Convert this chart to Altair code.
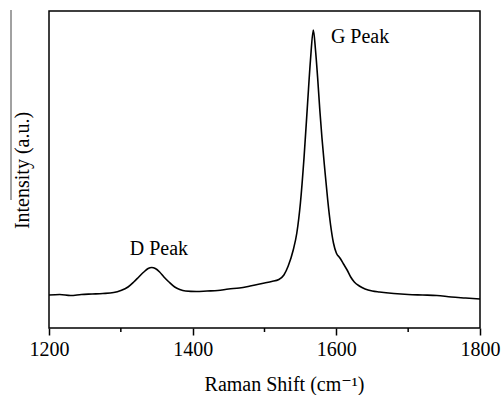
import altair as alt
import pandas as pd

shift = [1200, 1215, 1230, 1245, 1260, 1275, 1290, 1300, 1310, 1318, 1325, 1332, 1338, 1343,
         1348, 1354, 1360, 1367, 1375, 1382, 1390, 1405, 1420, 1435, 1450, 1465, 1480, 1490,
         1500, 1510, 1520, 1527, 1533, 1540, 1545, 1550, 1555, 1560, 1564, 1568, 1571, 1574,
         1577, 1580, 1584, 1588, 1592, 1596, 1600, 1605, 1610, 1615, 1620, 1625, 1632, 1640,
         1650, 1660, 1680, 1700, 1720, 1740, 1760, 1780, 1800]
intensity = [33, 33.5, 32.5, 33.5, 34, 34.5, 35.5, 37.5, 41, 46, 51, 56, 59.5, 60.5,
             59.5, 56, 51, 46, 41, 38.5, 37, 36.5, 37, 37.5, 39, 40, 42, 43.5,
             45, 46.5, 48.5, 53, 62, 78, 95, 125, 170, 225, 268, 298, 278, 250,
             218, 190, 158, 128, 103, 85, 75, 70, 64, 58, 51, 46, 42, 39,
             37, 36, 34.5, 33.5, 33, 32.5, 31, 30, 29]

label_text = ["D Peak", "G Peak"]
label_x = [1353, 1633]
label_y = [73, 285]

major_ticks = [1200, 1400, 1600, 1800]
minor_ticks = [1300, 1500, 1700]

W, H = 431, 317
FONT = "'Liberation Serif', 'DejaVu Serif', serif"

df = pd.DataFrame({"shift": shift, "intensity": intensity})
lab = pd.DataFrame({"text": label_text, "x": label_x, "y": label_y})
minor = pd.DataFrame({"x": minor_ticks})

xscale = alt.Scale(domain=[1200, 1800], nice=False, zero=False)
yscale = alt.Scale(domain=[0, 317], nice=False, zero=True)

line = alt.Chart(df).mark_line(color="black", strokeWidth=1.6, interpolate="monotone").encode(
    x=alt.X("shift:Q", scale=xscale,
            axis=alt.Axis(values=major_ticks, format="d", title="Raman Shift (cm\u207b\u00b9)",
                          domain=False, grid=False, tickSize=7, tickWidth=1.5, tickColor="black",
                          labelFont=FONT, labelFontSize=20, labelColor="black", labelPadding=4,
                          labelFlush=False,
                          titleFont=FONT, titleFontSize=20, titleFontWeight="normal", titleColor="black",
                          titleX=235, titleY=62, titleBaseline="alphabetic", titleAnchor="middle")),
    y=alt.Y("intensity:Q", scale=yscale,
            axis=alt.Axis(title="Intensity (a.u.)", labels=False, ticks=False, domain=False, grid=False,
                          titleFont=FONT, titleFontSize=20, titleFontWeight="normal", titleColor="black",
                          titleX=-27, titleY=159, titleAngle=-90, titleBaseline="middle",
                          titleAlign="center")),
)

texts = alt.Chart(lab).mark_text(font=FONT, fontSize=20, color="black", baseline="alphabetic",
                                 align="center").encode(
    x=alt.X("x:Q", scale=xscale),
    y=alt.Y("y:Q", scale=yscale),
    text="text:N",
)

minor_rules = alt.Chart(minor).mark_rule(color="black", strokeWidth=1.5, clip=False).encode(
    x=alt.X("x:Q", scale=xscale),
    y=alt.value(H),
    y2=alt.value(H + 4),
)

artifact = alt.Chart(pd.DataFrame({"a": [0]})).mark_rule(color="#444444", strokeWidth=1, clip=False).encode(
    x=alt.value(-38), y=alt.value(-1), y2=alt.value(189)
)

chart = alt.layer(line, texts, minor_rules, artifact).properties(
    width=W, height=H,
    autosize=alt.AutoSizeParams(type="none"),
    padding={"left": 49, "top": 11, "right": 22, "bottom": 67},
).configure(background="white").configure_view(stroke="black", strokeWidth=1.5)

chart.save("out.html", embed_options={"renderer": "svg", "actions": False})
